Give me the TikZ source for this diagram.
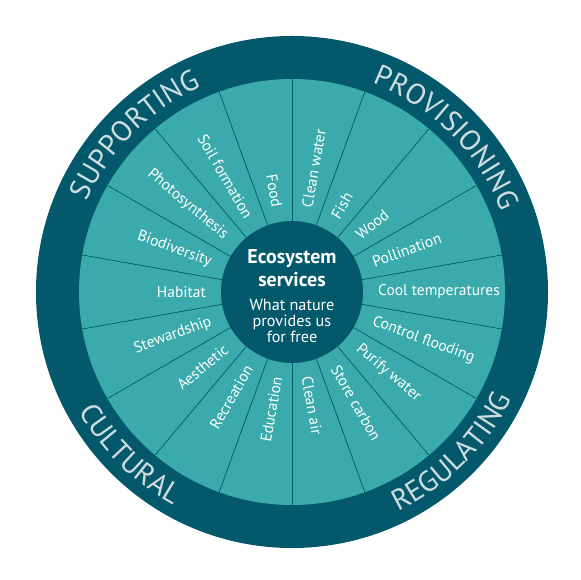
\documentclass[tikz,border=0pt]{standalone}
\usepackage{fontspec}
\setmainfont{PT Sans}
\usetikzlibrary{decorations.text}
\definecolor{ringblue}{HTML}{03596B}
\definecolor{wedgeteal}{HTML}{3AAAAC}
\definecolor{ringtext}{HTML}{CFDDE1}
\newcommand{\ringfont}{\color{ringtext}\fontsize{29}{30}\selectfont}
\newcommand{\hubtitle}{\fontsize{20}{21}\selectfont\bfseries}
\tikzset{
  service/.style={text=white, inner sep=0pt, font=\fontsize{15.5}{17}\selectfont},
  divider/.style={draw=ringblue, line width=0.7pt},
  hub/.style={circle, fill=ringblue, text=white, inner sep=0pt, minimum size=142pt, align=center, font=\fontsize{16.2}{16}\selectfont},
  ringlabel/.style={decorate, decoration={text along path, text align=center, text={|\ringfont|#1}}}
}
\begin{document}
\begin{tikzpicture}[x=1pt,y=1pt]
\useasboundingbox (-292,-288) rectangle (288,292);
\fill[ringblue] (0,0) circle (256);
\fill[wedgeteal] (0,0) circle (213);
\foreach \a in {10,30,...,350}
  \draw[divider] (\a:70) -- (\a:213);
% right half reads outwards, left half inwards
\foreach \ang/\txt [count=\i] in {80/Clean water, 60/Fish, 40/Wood, 20/Pollination, 0/Cool temperatures, -20/Control flooding, -40/Purify water, -60/Store carbon, -80/Clean air}
  \node[service, anchor=west, rotate=\ang] (right\i) at (\ang:86) {\txt};
\foreach \ang/\txt [count=\i] in {100/Food, 120/Soil formation, 140/Photosynthesis, 160/Biodiversity, 180/Habitat, 200/Stewardship, 220/Aesthetic, 240/Recreation, 260/Education}
  \node[service, anchor=east, rotate=\ang-180] (left\i) at (\ang:86) {\txt};
\node[hub] (hub) at (0,0) {};
\node[text=white, align=center, font=\fontsize{16.2}{16}\selectfont, inner sep=0pt] (hubtext) at (0,-4)
  {{\hubtitle Ecosystem}\\[3pt]{\hubtitle services}\\[8pt]What nature\\provides us\\for free};
% group names on the ring
\path[ringlabel=SUPPORTING] (165:224) arc[start angle=165, end angle=105, radius=224];
\path[ringlabel=PROVISIONING] (80:224) arc[start angle=80, end angle=10, radius=224];
\path[ringlabel=CULTURAL] (195:244) arc[start angle=195, end angle=255, radius=244];
\path[ringlabel=REGULATING] (280:244) arc[start angle=280, end angle=350, radius=244];
\end{tikzpicture}
\end{document}
